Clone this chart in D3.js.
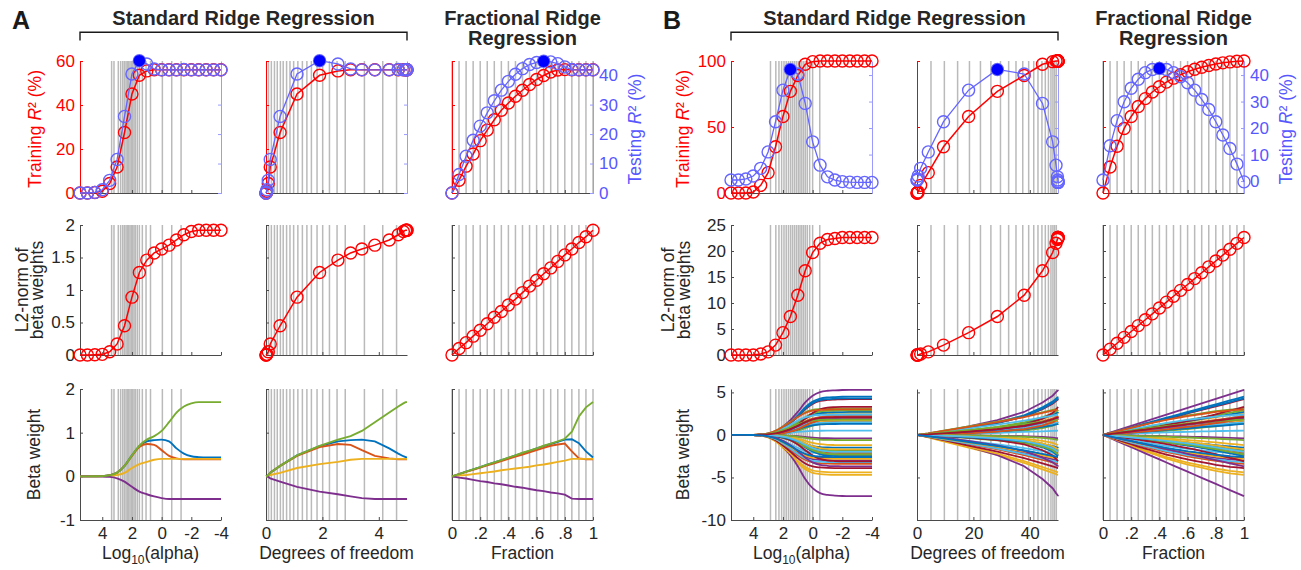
<!DOCTYPE html>
<html><head><meta charset="utf-8">
<script src="https://cdn.jsdelivr.net/npm/d3@7"></script>
<style>body{margin:0;background:#fff}</style>
</head><body><script>
// ---------------- DATA ----------------
const logAlpha = [5.5,5,4.5,4,3.5,3,2.5,2,1.5,1,0.5,0,-0.5,-1,-1.5,-2,-2.5,-3,-3.5,-4];
const fractions = [0,0.05,0.1,0.15,0.2,0.25,0.3,0.35,0.4,0.45,0.5,0.55,0.6,0.65,0.7,0.75,0.8,0.85,0.9,0.95,1];
const dfA = [0,0.003,0.01,0.03,0.08,0.15,0.5,1.1,1.9,2.55,3.0,3.4,3.86,4.37,4.69,4.87,4.95,4.98,4.995,5.0];
const dfB = [0,0.05,0.15,0.4,1.3,4.0,9.4,18.3,28.5,38,44.5,48.1,49.3,49.8,49.95,50,50,50,50,50];

// gray reference lines (alpha / df values that correspond to the fraction grid)
const gridLaA = [3.37,3.21,2.92,2.76,2.62,2.51,2.4,2.31,2.22,2.13,2.04,1.95,1.86,1.77,1.64,1.5,1.3,1.05,0.75,-0.05,-0.68,-1.31];
const gridDfA = [0.09,0.19,0.3,0.4,0.51,0.61,0.73,0.85,0.98,1.13,1.29,1.45,1.61,1.81,2.01,2.25,2.52,2.81,3.49,4.14,4.63];
const gridLaB = [2.84,2.48,2.27,2.09,1.93,1.78,1.63,1.49,1.36,1.23,1.1,0.97,0.85,0.73,0.61,0.49,0.36,0.2,0.0,-0.48];
const gridDfB = [4.96,9.7,14.4,18.6,22.5,26.2,29.6,32.5,35.1,37.5,39.6,41.4,42.9,44.3,45.5,46.6,47.5,48.2,48.8,49.4];

// tick labels
const laTicks = [4,2,0,-2,-4];
const dfTicksA = [0,2,4];
const dfTicksB = [0,20,40];
const fracTicks = [0,0.2,0.4,0.6,0.8,1];
const fracTickLabels = ['0','.2','.4','.6','.8','1'];
const r2TicksA = [0,20,40,60];
const r2TicksB = [0,50,100];
const testTicks = [0,10,20,30,40];
const normTicksA = [0,0.5,1,1.5,2];
const normTicksB = [0,5,10,15,20,25];
const betaTicksA = [-1,0,1,2];
const betaTicksB = [-10,-5,0,5];

// Panel A values
const trainA_alpha = [0,0,0.2,0.8,4.3,11.8,27.5,45,53.5,55.5,56,56,56,56,56,56,56,56,56,56];
const testA_alpha  = [0,0,0.2,1.1,4.3,11.4,26,40.4,44.9,43.8,42.1,41.8,41.8,41.8,41.9,41.8,41.8,41.8,41.8,41.8];
const trainA_frac  = [0,5.8,12.2,17.7,23.8,28.6,33.3,37.6,40.9,44,46.7,49.3,51.6,53.4,55,55.9,56.1,56,56,56,56];
const testA_frac   = [0,6.3,12.5,17.9,22.7,27.2,31.3,34.9,37.9,40.3,42.2,43.6,44.3,44.7,44.5,43.9,42.8,41.9,41.8,41.8,41.8];
const normA_alpha  = [0,0,0.005,0.01,0.05,0.17,0.45,0.89,1.27,1.46,1.57,1.63,1.69,1.77,1.85,1.9,1.92,1.92,1.92,1.92];
const normA_frac   = [0,0.1,0.19,0.29,0.38,0.48,0.58,0.67,0.77,0.86,0.96,1.06,1.15,1.25,1.34,1.44,1.54,1.63,1.73,1.82,1.92];
const betaA_alpha_blue   = [0,0,0.002,0.005,0.025,0.085,0.24,0.48,0.69,0.8,0.83,0.84,0.8,0.64,0.52,0.46,0.44,0.43,0.43,0.43];
const betaA_alpha_orange = [0,0,0.002,0.005,0.025,0.085,0.24,0.47,0.67,0.74,0.72,0.6,0.47,0.41,0.39,0.39,0.39,0.39,0.39,0.39];
const betaA_alpha_yellow = [0,0,0.001,0.002,0.01,0.03,0.08,0.19,0.28,0.33,0.38,0.4,0.4,0.4,0.4,0.4,0.4,0.4,0.4,0.4];
const betaA_alpha_purple = [0,0,-0.001,-0.003,-0.013,-0.045,-0.12,-0.24,-0.35,-0.41,-0.46,-0.5,-0.52,-0.52,-0.52,-0.52,-0.52,-0.52,-0.52,-0.52];
const betaA_alpha_green  = [0,0,0.002,0.005,0.025,0.085,0.24,0.48,0.7,0.84,0.92,1.04,1.24,1.46,1.6,1.67,1.7,1.7,1.7,1.7];
const betaA_frac_blue   = [0,0.05,0.11,0.16,0.21,0.27,0.32,0.37,0.42,0.48,0.53,0.58,0.64,0.69,0.74,0.79,0.84,0.85,0.76,0.57,0.43];
const betaA_frac_orange = [0,0.05,0.1,0.15,0.2,0.25,0.3,0.35,0.4,0.45,0.5,0.55,0.6,0.65,0.7,0.73,0.75,0.57,0.41,0.39,0.39];
const betaA_frac_yellow = [0,0.02,0.03,0.05,0.07,0.09,0.11,0.14,0.16,0.18,0.2,0.22,0.25,0.27,0.3,0.33,0.36,0.4,0.4,0.4,0.4];
const betaA_frac_purple = [0,-0.03,-0.05,-0.08,-0.11,-0.13,-0.16,-0.18,-0.21,-0.24,-0.26,-0.29,-0.32,-0.34,-0.37,-0.39,-0.42,-0.51,-0.52,-0.52,-0.52];
const betaA_frac_green  = [0,0.05,0.11,0.16,0.21,0.27,0.32,0.37,0.43,0.48,0.54,0.59,0.64,0.7,0.75,0.8,0.86,1.02,1.37,1.58,1.7];

// Panel B values
const trainB_alpha = [0,0,0,0.8,5.8,15.4,35,58,77,89,97.5,99.5,100,100,100,100,100,100,100,100];
const testB_alpha  = [0.4,0.4,0.8,1.9,4.8,11,22.4,34.3,42.1,40.4,29.3,14.8,6,1.6,0.4,-0.2,-0.4,-0.5,-0.5,-0.5];
const trainB_frac  = [0,19.7,35.4,48.9,58,65.5,71.5,76.5,80.5,84,87,89.6,91.8,93.7,95.3,96.6,97.7,98.6,99.3,99.8,100];
const testB_frac   = [0.4,13.3,22.8,29.9,35,38.4,40.9,42.1,42.5,42.1,40.9,39.4,37.1,34.3,30.8,27,22.4,17.4,12.3,6.4,-0.3];
const normB_alpha  = [0,0,0,0,0.2,0.6,1.9,4.3,7.4,11.5,16.2,19.7,21.5,22.2,22.4,22.6,22.6,22.6,22.6,22.6];
const normB_frac   = [0,1.13,2.26,3.39,4.52,5.65,6.78,7.91,9.04,10.17,11.3,12.43,13.56,14.69,15.82,16.95,18.08,19.21,20.34,21.47,22.6];
// unregularised (final) beta weight of each of the 50 predictors, read at the right edge
const finalsB = [4.5,1.6,-4.7,5.3,3.1,2.3,4.2,-1.8,-3.4,2.6,-7.2,1.4,-2.2,1.9,2.7,-2.1,-4.4,-2.4,2.9,0.5,-3.9,-2.5,2.2,-1.2,-3.0,-2.3,1.5,-2.7,4.3,-2.0,1.7,-0.4,-1.9,-3.2,3.3,1.3,1.9,-2.8,2.0,-0.6,2.4,-3.1,-1.5,3.0,-1.7,-3.7,1.8,-2.0,2.1,-2.6];
const typesB = [0,2,1,0,1,2,0,2,1,0,0,2,1,2,0,2,1,2,0,1,1,2,0,2,1,2,0,1,0,2,1,2,0,1,2,0,2,1,0,2,1,2,0,1,2,0,1,2,0,1];
// share of the final weight reached at each alpha sample (three path shapes)
const pathAlpha0 = [0,0,0,0.001,0.009,0.027,0.084,0.19,0.33,0.51,0.72,0.87,0.95,0.98,0.99,0.997,1,1,1,1];
const pathAlpha1 = [0,0,0.001,0.004,0.02,0.06,0.16,0.32,0.5,0.7,0.86,0.95,0.98,0.995,1,1,1,1,1,1];
const pathAlpha2 = [0,0,0,0,0.004,0.012,0.04,0.1,0.2,0.36,0.58,0.78,0.91,0.97,0.99,1,1,1,1,1];
// share of the final weight reached at each fraction sample
const pathFrac0 = [0,0.05,0.1,0.15,0.2,0.25,0.3,0.35,0.4,0.45,0.5,0.55,0.6,0.65,0.7,0.75,0.8,0.85,0.9,0.95,1];
const pathFrac1 = [0,0.07,0.14,0.21,0.28,0.35,0.41,0.47,0.53,0.59,0.64,0.69,0.74,0.78,0.82,0.86,0.9,0.93,0.96,0.98,1];
const pathFrac2 = [0,0.035,0.07,0.105,0.14,0.18,0.22,0.26,0.3,0.35,0.4,0.45,0.5,0.55,0.61,0.67,0.73,0.8,0.87,0.93,1];

// ---------------- STYLE / LAYOUT ----------------
const FONT = '"Liberation Sans", Arial, Helvetica, sans-serif';
const colors = ['#0072BD','#D95319','#EDB120','#7E2F8E','#77AC30','#4DBEEE','#A2142F'];
const RED = '#ff0000', BLUE = '#6565ff', BLUE_AX = '#9a9aff', BLUE_T = '#5757ff', AX = '#4a4a4a', TXT = '#262626', GRID = '#bababa';
const colX = {A:[80,266,452], B:[731,917,1103]};
const rowY = [[61,193],[225,355],[389,520]];
const PW = 141;
const TICK_FS = 17;

const svg = d3.select('body').append('svg').attr('width',1301).attr('height',570).style('display','block');

const cfgs = {
  A: {
    xDom: [[5.5,-4],[0,5],[0,1]], xTicks: [laTicks,dfTicksA,fracTicks],
    grid: [gridLaA, gridDfA, fractions], df: dfA,
    r2Dom: [0,60], r2Ticks: r2TicksA, testDom: [0,44.8],
    train: [trainA_alpha, trainA_alpha, trainA_frac], test: [testA_alpha, testA_alpha, testA_frac],
    normDom: [0,2], normTicks: normTicksA, norm: [normA_alpha, normA_alpha, normA_frac],
    betaDom: [-1,2], betaTicks: betaTicksA,
    betas: c => c===2
      ? [betaA_frac_blue, betaA_frac_orange, betaA_frac_yellow, betaA_frac_purple, betaA_frac_green]
      : [betaA_alpha_blue, betaA_alpha_orange, betaA_alpha_yellow, betaA_alpha_purple, betaA_alpha_green],
    lw: 1.9
  },
  B: {
    xDom: [[5.5,-4],[0,50],[0,1]], xTicks: [laTicks,dfTicksB,fracTicks],
    grid: [gridLaB, gridDfB, fractions], df: dfB,
    r2Dom: [0,100], r2Ticks: r2TicksB, testDom: [-4.5,45.3],
    train: [trainB_alpha, trainB_alpha, trainB_frac], test: [testB_alpha, testB_alpha, testB_frac],
    normDom: [0,25], normTicks: normTicksB, norm: [normB_alpha, normB_alpha, normB_frac],
    betaDom: [-10,5.4], betaTicks: betaTicksB,
    betas: c => {
      const pa = [pathAlpha0, pathAlpha1, pathAlpha2], pf = [pathFrac0, pathFrac1, pathFrac2];
      return finalsB.map((f,j) => (c===2 ? pf[typesB[j]] : pa[typesB[j]]).map(s => f*s));
    },
    lw: 1.8
  }
};

function styleAxis(sel, stroke, fill){
  sel.attr('font-family', FONT).attr('font-size', TICK_FS);
  sel.select('.domain').attr('stroke', stroke).attr('stroke-width', 1);
  sel.selectAll('.tick line').attr('stroke', stroke);
  sel.selectAll('.tick text').attr('fill', fill);
}
const num = d => String(d);

function drawSet(P){
  const cfg = cfgs[P];
  for (let c=0;c<3;c++){
    const x0 = colX[P][c], x1 = x0+PW;
    const xs = d3.scaleLinear().domain(cfg.xDom[c]).range([x0,x1]);
    const xv = c===2 ? fractions : (c===0 ? logAlpha : cfg.df);
    const xfmt = c===2 ? (d,i)=>fracTickLabels[i] : num;
    for (let r=0;r<3;r++){
      const [y0,y1] = rowY[r];
      const g = svg.append('g');
      // gray lines
      g.selectAll(null).data(cfg.grid[c]).join('line')
        .attr('x1', d=>xs(d)).attr('x2', d=>xs(d)).attr('y1', y0).attr('y2', y1)
        .attr('stroke', GRID).attr('stroke-width', 1.5);
      // x axis
      g.append('g').attr('transform', `translate(0,${y1})`)
        .call(d3.axisBottom(xs).tickValues(cfg.xTicks[c]).tickSizeInner(-3).tickSizeOuter(0).tickPadding(7)
          .tickFormat(r===2 ? xfmt : ()=>''))
        .call(styleAxis, AX, TXT);
      if (r===0){
        const ys = d3.scaleLinear().domain(cfg.r2Dom).range([y1,y0]);
        const yr = d3.scaleLinear().domain(cfg.testDom).range([y1,y0]);
        g.append('g').attr('transform', `translate(${x0},0)`)
          .call(d3.axisLeft(ys).tickValues(cfg.r2Ticks).tickSizeInner(-3).tickSizeOuter(0).tickPadding(5)
            .tickFormat(c===0 ? num : ()=>''))
          .call(styleAxis, RED, RED);
        g.append('g').attr('transform', `translate(${x1},0)`)
          .call(d3.axisRight(yr).tickValues(testTicks).tickSizeInner(-3).tickSizeOuter(0).tickPadding(6)
            .tickFormat(c===2 ? num : ()=>''))
          .call(styleAxis, BLUE_AX, BLUE_T);
        const tr = cfg.train[c], te = cfg.test[c];
        g.append('path').attr('d', d3.line().x((d,i)=>xs(xv[i])).y(d=>ys(d))(tr))
          .attr('fill','none').attr('stroke',RED).attr('stroke-width',1.5);
        g.selectAll(null).data(tr).join('circle').attr('cx',(d,i)=>xs(xv[i])).attr('cy',d=>ys(d)).attr('r',6)
          .attr('fill','none').attr('stroke',RED).attr('stroke-width',1.4);
        g.append('path').attr('d', d3.line().x((d,i)=>xs(xv[i])).y(d=>yr(d))(te))
          .attr('fill','none').attr('stroke',BLUE).attr('stroke-width',1.3);
        g.selectAll(null).data(te).join('circle').attr('cx',(d,i)=>xs(xv[i])).attr('cy',d=>yr(d)).attr('r',6)
          .attr('fill','none').attr('stroke',BLUE).attr('stroke-width',1.4);
        const mi = d3.maxIndex(te);
        g.append('circle').attr('cx', xs(xv[mi])).attr('cy', yr(te[mi])).attr('r', 5.8).attr('fill','#0000ff');
      } else if (r===1){
        const ys = d3.scaleLinear().domain(cfg.normDom).range([y1,y0]);
        g.append('g').attr('transform', `translate(${x0},0)`)
          .call(d3.axisLeft(ys).tickValues(cfg.normTicks).tickSizeInner(-3).tickSizeOuter(0).tickPadding(5)
            .tickFormat(c===0 ? num : ()=>''))
          .call(styleAxis, AX, TXT);
        const nv = cfg.norm[c];
        g.append('path').attr('d', d3.line().x((d,i)=>xs(xv[i])).y(d=>ys(d))(nv))
          .attr('fill','none').attr('stroke',RED).attr('stroke-width',1.5);
        g.selectAll(null).data(nv).join('circle').attr('cx',(d,i)=>xs(xv[i])).attr('cy',d=>ys(d)).attr('r',6)
          .attr('fill','none').attr('stroke',RED).attr('stroke-width',1.4);
      } else {
        const ys = d3.scaleLinear().domain(cfg.betaDom).range([y1,y0]);
        g.append('g').attr('transform', `translate(${x0},0)`)
          .call(d3.axisLeft(ys).tickValues(cfg.betaTicks).tickSizeInner(-3).tickSizeOuter(0).tickPadding(5)
            .tickFormat(c===0 ? num : ()=>''))
          .call(styleAxis, AX, TXT);
        const series = cfg.betas(c);
        series.forEach((s,j) => {
          let pts = s.map((v,i)=>[xs(xv[i]), ys(v)]);
          let gen = d3.line();
          if (c===0){ pts = pts.sort((a,b)=>a[0]-b[0]); gen = d3.line().curve(d3.curveMonotoneX); }
          g.append('path').attr('d', gen(pts)).attr('fill','none')
            .attr('stroke', colors[j%7]).attr('stroke-width', cfg.lw);
        });
      }
    }
  }
}
drawSet('A');
drawSet('B');

// ---------------- TEXT ----------------
function vlabel(x, y, parts, color){
  const t = svg.append('text').attr('transform', `translate(${x},${y}) rotate(-90)`)
    .attr('text-anchor','middle').attr('font-family',FONT).attr('font-size',17.5).attr('fill',color);
  parts.forEach(p => { const s = t.append('tspan').text(p[0]); if (p[1]) s.attr('font-style', p[1]); });
}
const r2parts = name => [[name+' '],['R','italic'],['\u00B2'],[' (%)']];
const midY = r => (rowY[r][0]+rowY[r][1])/2;

[['A',39,52,37,40],['B',42,57,41,42]].forEach(([P,o0,o1a,o1b,o2]) => {
  const x0 = colX[P][0];
  vlabel(x0-o0, midY(0)+2, r2parts('Training'), RED);
  vlabel(colX[P][2]+PW+48, midY(0)+2, r2parts('Testing'), BLUE_T);
  vlabel(x0-o1a, midY(1), [['L2-norm of']], TXT);
  vlabel(x0-o1b, midY(1), [['beta weights']], TXT);
  vlabel(x0-o2, midY(2), [['Beta weight']], TXT);
  // x labels
  const xl = (c) => svg.append('text').attr('x', colX[P][c]+PW/2).attr('y', 559).attr('text-anchor','middle')
      .attr('font-family',FONT).attr('font-size',17.5).attr('fill',TXT);
  const t0 = xl(0);
  t0.append('tspan').text('Log');
  t0.append('tspan').text('10').attr('font-size',12).attr('dy',5);
  t0.append('tspan').text('(alpha)').attr('dy',-5);
  xl(1).text('Degrees of freedom');
  xl(2).text('Fraction');
  // headings
  const L = colX[P][0], R = colX[P][1]+PW;
  svg.append('text').attr('x', L-68).attr('y', 29).attr('font-family',FONT).attr('font-weight','bold')
    .attr('font-size',25).attr('fill','#1a1a1a').text(P);
  svg.append('text').attr('x',(L+R)/2).attr('y',25).attr('text-anchor','middle').attr('font-family',FONT)
    .attr('font-weight','bold').attr('font-size',20).attr('fill',TXT).text('Standard Ridge Regression');
  svg.append('path').attr('d',`M${L},40.5V32.3H${R}V40.5`).attr('fill','none').attr('stroke','#1a1a1a').attr('stroke-width',1.4);
  const fx = colX[P][2]+PW/2;
  svg.append('text').attr('x',fx).attr('y',25).attr('text-anchor','middle').attr('font-family',FONT)
    .attr('font-weight','bold').attr('font-size',20).attr('fill',TXT).text('Fractional Ridge');
  svg.append('text').attr('x',fx).attr('y',45).attr('text-anchor','middle').attr('font-family',FONT)
    .attr('font-weight','bold').attr('font-size',20).attr('fill',TXT).text('Regression');
});
</script></body></html>
